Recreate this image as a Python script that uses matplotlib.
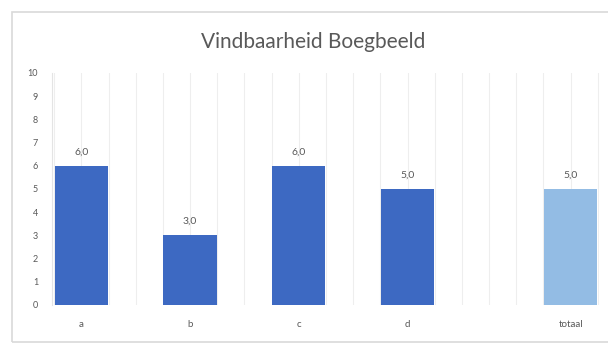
import matplotlib
matplotlib.use("Agg")
import matplotlib.pyplot as plt
from matplotlib.patches import Rectangle

categories = ["a", "b", "c", "d", "totaal"]
values = [6.0, 3.0, 6.0, 5.0, 5.0]
positions = [0, 1, 2, 3, 4.5]
colors = ["#3D69C2", "#3D69C2", "#3D69C2", "#3D69C2", "#93BCE4"]
yticks = list(range(0, 11))

plt.rcParams['font.family'] = ['Lato', 'DejaVu Sans']

W, H = 608, 344
fig = plt.figure(figsize=(W / 100, H / 100), dpi=100)
fig.patch.set_facecolor("white")
fig.add_artist(Rectangle((12 / W, 2 / H), (W + 10) / W, (H - 14) / H,
                         transform=fig.transFigure, fill=False,
                         edgecolor="#d9d9d9", linewidth=1.2))

ax = fig.add_axes([52 / W, 1 - 305 / H, (600 - 52) / W, (305 - 73) / H])
ax.set_xlim(-0.27, 4.77)
ax.set_ylim(0, 10)

# faint vertical gridlines
k = -0.25
while k <= 4.76:
    ax.axvline(k, color="#eeeeee", linewidth=0.8, zorder=0)
    k += 0.25

bars = ax.bar(positions, values, width=0.49, color=colors, zorder=2)
for x, v in zip(positions, values):
    ax.text(x, v + 0.4, f"{v:.1f}".replace(".", ","), ha="center", va="bottom",
            fontsize=7.5, color="#595959")

ax.set_xticks(positions)
ax.set_xticklabels(categories, fontsize=7, color="#595959")
ax.set_yticks(yticks)
ax.set_yticklabels([str(t) for t in yticks], fontsize=6.5, color="#595959")
ax.tick_params(axis="both", length=0)
ax.tick_params(axis="x", pad=11)
ax.tick_params(axis="y", pad=10)
for s in ["top", "right", "bottom"]:
    ax.spines[s].set_visible(False)
ax.spines["left"].set_color("#e4e4e4")
ax.spines["left"].set_linewidth(0.8)

fig.text(313 / W, 1 - 42 / H, "Vindbaarheid Boegbeeld", ha="center", va="center",
         fontsize=15, color="#595959")

fig.savefig("out.png", dpi=100)
